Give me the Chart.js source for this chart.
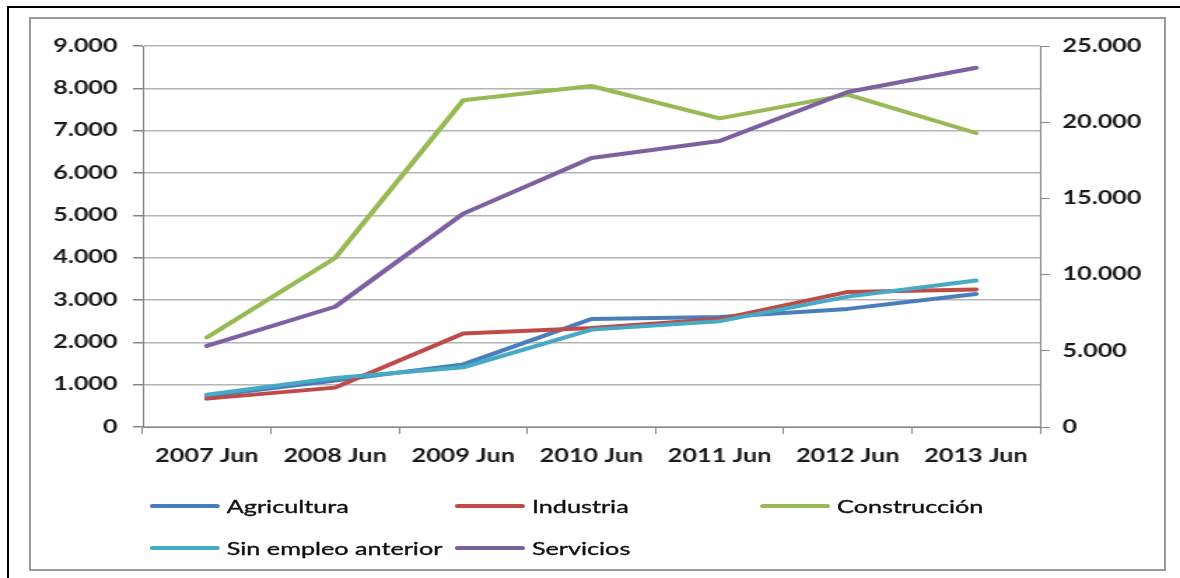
<!DOCTYPE html>
<html>
<head>
<meta charset="utf-8">
<script src="https://cdn.jsdelivr.net/npm/chart.js@4.4.0/dist/chart.umd.min.js"></script>
<style>
  html, body { margin: 0; padding: 0; background: #fff; overflow: hidden; }
  body { width: 1180px; height: 578px; position: relative; font-family: Lato, sans-serif; }
  #outer { position: absolute; left: 7px; top: 6px; width: 1300px; height: 700px;
           border-left: 2px solid #000; border-top: 2px solid #000; }
  #frame { position: absolute; left: 29px; top: 17px; width: 1133px; height: 550px;
           border: 2px solid #9a9a9a; background: #fff; }
  /* the source picture is stretched sideways, so the chart is drawn narrow and widened */
  #stretch { position: absolute; left: 0; top: 0; width: 843px; height: 578px;
             transform: scaleX(1.39976); transform-origin: 0 0; }
  #wrap { position: absolute; left: 0; top: 0; width: 843px; height: 578px; }
  #legend .item { position: absolute; display: flex; align-items: center; height: 22px;
                  font-size: 18px; color: #111; white-space: nowrap;
                  -webkit-text-stroke: 0.35px #111; }
  #legend .swatch { display: inline-block; width: 50px; height: 4px; border-radius: 2px; margin-right: 5px; }
</style>
</head>
<body>
<div id="outer"></div>
<div id="frame"></div>
<div id="stretch">
  <div id="wrap"><canvas id="chart"></canvas></div>
  <div id="legend"></div>
</div>
<script>
const categories = ['2007 Jun', '2008 Jun', '2009 Jun', '2010 Jun', '2011 Jun', '2012 Jun', '2013 Jun'];

const agricultura = [730, 1100, 1480, 2550, 2600, 2790, 3140];
const industria = [670, 930, 2210, 2340, 2550, 3190, 3250];
const construccion = [2115, 3990, 7720, 8055, 7290, 7850, 6945];
const sinEmpleo = [760, 1160, 1410, 2300, 2500, 3080, 3460];
const servicios = [5320, 7890, 14000, 17650, 18770, 21980, 23570]; // right axis

// [min, max, step]
const leftAxis = [0, 9000, 1000];
const rightAxis = [0, 25000, 5000];

const fmt = v => String(v).replace(/\B(?=(\d{3})+(?!\d))/g, '.');

Chart.defaults.font.family = 'Lato, sans-serif';
Chart.defaults.color = '#1a1a1a';

function line(label, data, color, order, axis) {
  return {
    label, data, order,
    yAxisID: axis || 'y',
    borderColor: color,
    backgroundColor: color,
    borderWidth: 4,
    borderJoinStyle: 'round',
    borderCapStyle: 'round',
    pointRadius: 0,
    tension: 0,
    fill: false
  };
}

const tickFont = { size: 18, weight: 'bold' };

const chart = new Chart(document.getElementById('chart'), {
  type: 'line',
  data: {
    labels: categories,
    datasets: [
      line('Agricultura', agricultura, '#4A7EBB', 5),
      line('Industria', industria, '#BE4B48', 4),
      line('Construcción', construccion, '#98B954', 3),
      line('Sin empleo anterior', sinEmpleo, '#46AAC5', 2),
      line('Servicios', servicios, '#7D60A0', 1, 'y1')
    ]
  },
  options: {
    responsive: true,
    maintainAspectRatio: false,
    animation: false,
    layout: { padding: { top: 46, left: 0, right: 0, bottom: 0 } },
    plugins: { legend: { display: false }, tooltip: { enabled: false } },
    scales: {
      x: {
        offset: true,
        grid: { offset: true, drawOnChartArea: false, drawTicks: true, tickLength: 7, color: '#868686' },
        border: { color: '#868686', width: 1 },
        ticks: { font: tickFont, color: '#1a1a1a', padding: 11, maxRotation: 0, autoSkip: false },
        afterFit: s => { s.height = 151; }
      },
      y: {
        position: 'left',
        min: leftAxis[0], max: leftAxis[1],
        grid: { color: '#b4b4b4', lineWidth: 1.5, tickLength: 7, tickColor: '#868686' },
        border: { color: '#868686', width: 1 },
        ticks: { stepSize: leftAxis[2], font: tickFont, color: '#1a1a1a', padding: 11, callback: fmt },
        afterFit: s => { s.width = 102; }
      },
      y1: {
        position: 'right',
        min: rightAxis[0], max: rightAxis[1],
        grid: { drawOnChartArea: false, tickLength: 7, color: '#868686' },
        border: { color: '#868686', width: 1 },
        ticks: { stepSize: rightAxis[2], font: tickFont, color: '#1a1a1a', padding: 9, callback: fmt },
        afterFit: s => { s.width = 100; }
      }
    }
  }
});

// legend laid out in three fixed columns like the original
const legendCols = [107, 325, 543];
const legendRows = [495, 537];
const legend = document.getElementById('legend');
chart.data.datasets.forEach((ds, i) => {
  const item = document.createElement('div');
  item.className = 'item';
  item.style.left = legendCols[i % 3] + 'px';
  item.style.top = legendRows[Math.floor(i / 3)] + 'px';
  item.innerHTML = '<span class="swatch" style="background:' + ds.borderColor + '"></span><span>' + ds.label + '</span>';
  legend.appendChild(item);
});
</script>
</body>
</html>
